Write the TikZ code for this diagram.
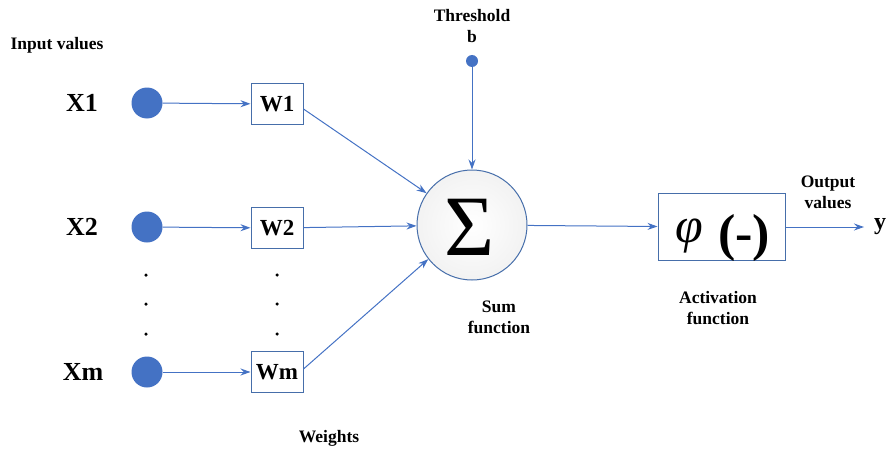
\documentclass[tikz,border=0pt]{standalone}
\usepackage{fontspec}
\setmainfont{Liberation Serif}
\usetikzlibrary{arrows.meta}
\definecolor{nblue}{RGB}{68,114,196}
\definecolor{lblue}{RGB}{70,110,170}
\tikzset{
  lbl/.style={font=\bfseries\fontsize{17.5}{21}\selectfont, align=center, inner sep=0pt},
  xlbl/.style={font=\bfseries\fontsize{26}{28}\selectfont, inner sep=0pt},
  inp/.style={circle, fill=nblue, minimum size=31pt, inner sep=0pt},
  wbox/.style={draw=lblue, line width=1pt, minimum width=52pt, minimum height=41pt, inner sep=0pt, font=\bfseries\fontsize{23}{25}\selectfont},
  conn/.style={draw=nblue, line width=1pt, -{Stealth[length=10pt,width=7pt]}},
  dotn/.style={circle, fill=black, minimum size=3.5pt, inner sep=0pt},
}
\begin{document}
\begin{tikzpicture}[x=1pt,y=-1pt]
\useasboundingbox (0,0) rectangle (891,452);
\node[lbl] (inlab) at (57,45) {Input values};
\node[xlbl] (x1l) at (82,103) {X1};
\node[xlbl] (x2l) at (82,227) {X2};
\node[xlbl] (xml) at (83,372) {Xm};
\node[inp] (x1) at (147,103) {};
\node[inp] (x2) at (147,227) {};
\node[inp] (xm) at (147,372) {};
\node[wbox] (w1) at (277,104) {W1};
\node[wbox] (w2) at (277,228) {W2};
\node[wbox] (wm) at (277,372) {Wm};
\foreach \i/\yy in {1/275,2/304,3/334}{
  \node[dotn] (da\i) at (146,\yy) {};
  \node[dotn] (db\i) at (277,\yy) {};
}
\node[circle, draw=lblue, line width=1pt, minimum size=110pt, inner sep=0pt, inner color=white, outer color=gray!10] (sum) at (472,225) {};
\node[font=\fontsize{86}{86}\selectfont, inner sep=0pt] (sig) at (470,227) {Σ};
\node[lbl] (thr) at (472,26) {Threshold\\b};
\node[circle, fill=nblue, minimum size=12pt, inner sep=0pt] (b) at (472,61) {};
\node[draw=lblue, line width=1pt, minimum width=127pt, minimum height=67pt, inner sep=0pt] (act) at (721.5,227) {};
\node[font=\itshape\fontsize{50}{50}\selectfont, inner sep=0pt] (phi) at (689,236) {φ};
\node[font=\bfseries\fontsize{52}{52}\selectfont, inner sep=0pt] (par) at (744,238) {(-)};
\coordinate (yend) at (864,227);
\node[font=\bfseries\fontsize{24}{26}\selectfont, inner sep=0pt] (y) at (880,227) {y};
\node[lbl] (outlab) at (828,192) {Output\\values};
\node[lbl] (sumlab) at (499,317) {Sum\\function};
\node[lbl] (actlab) at (718,308) {Activation\\function};
\node[lbl] (wlab) at (329,438) {Weights};
\draw[conn] (x1) -- (w1);
\draw[conn] (x2) -- (w2);
\draw[conn] (xm) -- (wm);
\draw[conn] (w1.east) ++(0,5) -- (sum.145);
\draw[conn] (w2) -- (sum);
\draw[conn] (wm.east) ++(0,-3) -- (sum.218);
\draw[conn] (b) -- (sum);
\draw[conn] (sum) -- (act);
\draw[conn] (act) -- (yend);
\end{tikzpicture}
\end{document}
